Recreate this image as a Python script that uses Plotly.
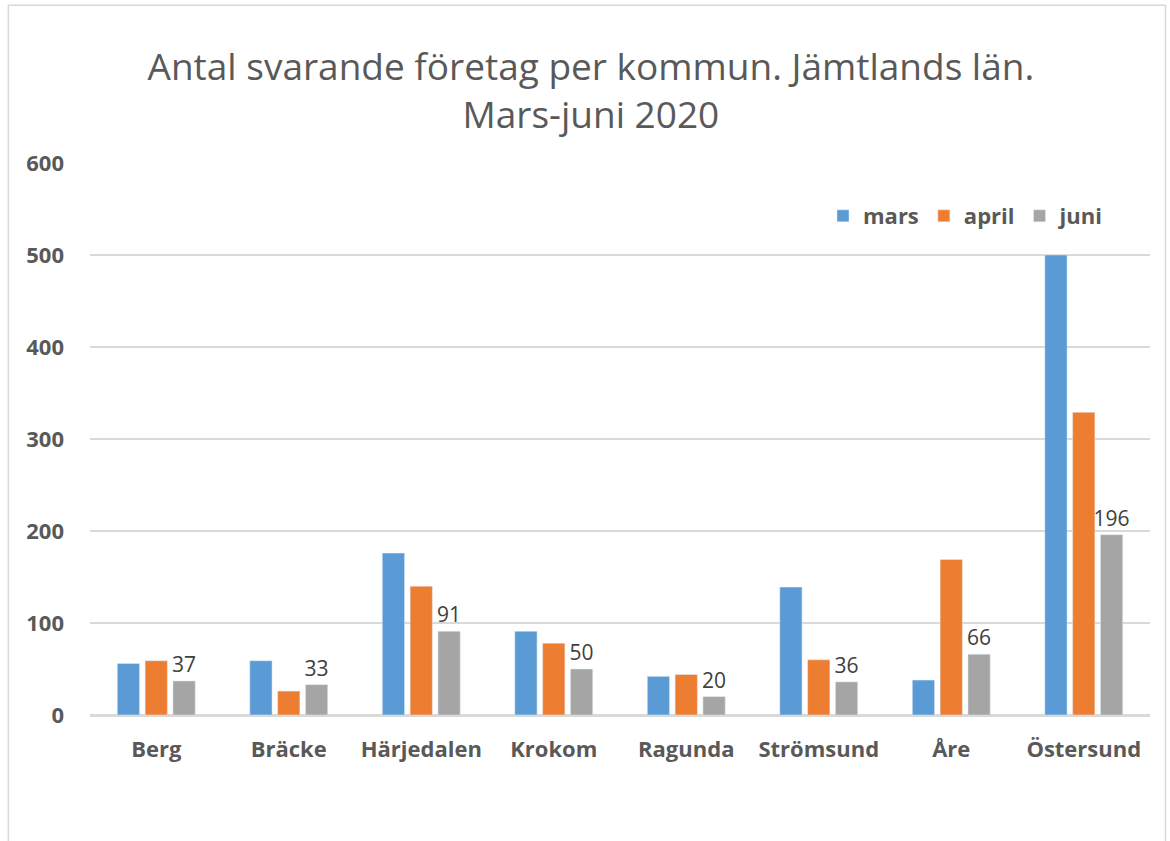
import plotly.graph_objects as go

kommuner = ["Berg", "Bräcke", "Härjedalen", "Krokom", "Ragunda", "Strömsund", "Åre", "Östersund"]
mars = [56, 59, 176, 91, 42, 139, 38, 500]
april = [59, 26, 140, 78, 44, 60, 169, 329]
juni = [37, 33, 91, 50, 20, 36, 66, 196]
y_ticks = [0, 100, 200, 300, 400, 500, 600]

colors = {"mars": "#5B9BD5", "april": "#ED7D31", "juni": "#A5A5A5"}
font_family = "Open Sans"

fig = go.Figure()
fig.add_trace(go.Bar(name="mars", x=kommuner, y=mars, marker_color=colors["mars"]))
fig.add_trace(go.Bar(name="april", x=kommuner, y=april, marker_color=colors["april"]))
fig.add_trace(go.Bar(name="juni", x=kommuner, y=juni, marker_color=colors["juni"],
                     text=[str(v) for v in juni], textposition="outside",
                     constraintext="none",
                     textfont=dict(family=font_family, size=21, color="#404040"),
                     cliponaxis=False))

fig.update_layout(
    width=1170, height=841,
    paper_bgcolor="white", plot_bgcolor="white",
    margin=dict(l=90, r=20, t=163, b=126),
    barmode="group", bargap=0.37, bargroupgap=0.2,
    title=dict(text="Antal svarande företag per kommun. Jämtlands län.<br>Mars-juni 2020",
               x=0.505, xanchor="center", y=0.905, yanchor="middle",
               font=dict(family=font_family, size=37, color="#595959")),
    legend=dict(orientation="h", x=0.6915, xanchor="left", y=0.904, yanchor="middle",
                font=dict(family=font_family, size=22, color="#595959", weight="bold"),
                bgcolor="rgba(0,0,0,0)", itemwidth=30, traceorder="normal"),
    xaxis=dict(showgrid=False, showline=True, linecolor="#d9d9d9", linewidth=1.5,
               tickfont=dict(family=font_family, size=22, color="#595959", weight="bold"),
               ticks="", ticklabelstandoff=14),
    yaxis=dict(range=[0, 600], tickvals=y_ticks, showgrid=True, gridcolor="#d9d9d9",
               gridwidth=1.5, zeroline=True, zerolinecolor="#d9d9d9", zerolinewidth=1.5,
               tickfont=dict(family=font_family, size=22, color="#595959", weight="bold"),
               ticks="", ticklabelstandoff=25),
    showlegend=True,
)

# chart area border
fig.add_shape(type="rect", xref="paper", yref="paper",
              x0=-0.077, x1=1.0146, y0=-0.25, y1=1.286,
              line=dict(color="#d9d9d9", width=1.5), fillcolor="rgba(0,0,0,0)", layer="below")

fig.write_html("out.html", config={"displayModeBar": False},
               post_script="document.body.style.margin='0';")
